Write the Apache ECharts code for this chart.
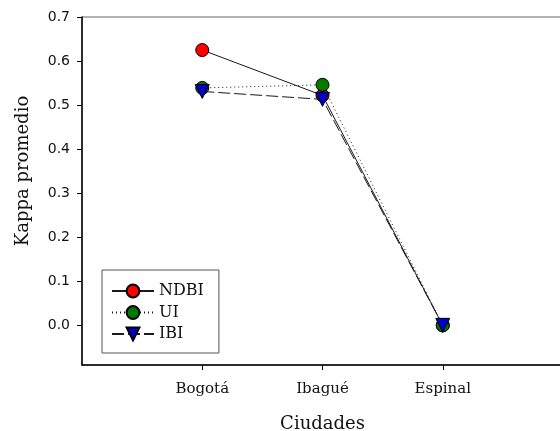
<!DOCTYPE html>
<html>
<head>
<meta charset="utf-8">
<script src="https://cdn.jsdelivr.net/npm/echarts@6/dist/echarts.min.js"></script>
<style>
html,body{margin:0;padding:0;background:#fff;}
#chart{width:560px;height:431px;}
</style>
</head>
<body>
<div id="chart"></div>
<script>
const categories = ['Bogotá', 'Ibagué', 'Espinal'];
const seriesNames = ['NDBI', 'UI', 'IBI'];
const ndbi = [0.625, 0.522, 0.0];
const ui = [0.539, 0.546, 0.0];
const ibi = [0.531, 0.513, 0.0];
const yTicks = [0, 0.1, 0.2, 0.3, 0.4, 0.5, 0.6, 0.7];
const xTicks = [1, 2, 3];

const toPts = arr => arr.map((v, i) => [i + 1, v]);

const chart = echarts.init(document.getElementById('chart'), null, {renderer: 'canvas'});
const serif = 'DejaVu Serif';
const lineColor = '#1a1a1a';

chart.setOption({
  backgroundColor: '#ffffff',
  animation: false,
  grid: {
    left: 82, top: 17, width: 481, bottom: 66,
    containLabel: false,
    outerBoundsMode: 'none',
    show: true, borderColor: '#666', borderWidth: 1, backgroundColor: 'transparent'
  },
  legend: {
    orient: 'vertical',
    left: 102, top: 270,
    padding: [13, 15, 11, 9],
    itemGap: 5.5,
    itemWidth: 42,
    itemHeight: 16,
    borderColor: '#555',
    borderWidth: 1,
    data: seriesNames,
    textStyle: {fontFamily: serif, fontSize: 16, color: '#111', lineHeight: 16}
  },
  xAxis: {
    type: 'value',
    min: 0, max: 4,
    splitLine: {show: false},
    axisLine: {onZero: false, lineStyle: {color: '#000', width: 1.5}},
    axisTick: {show: true, length: 5, customValues: xTicks, lineStyle: {color: '#000'}},
    axisLabel: {
      customValues: xTicks,
      margin: 17,
      fontFamily: serif, fontSize: 15, color: '#111',
      formatter: v => categories[Math.round(v) - 1] || ''
    },
    name: 'Ciudades',
    nameLocation: 'middle',
    nameGap: 50,
    nameTextStyle: {fontFamily: serif, fontSize: 18, color: '#111'}
  },
  yAxis: {
    type: 'value',
    min: -0.09, max: 0.7,
    splitLine: {show: false},
    axisLine: {show: true, onZero: false, lineStyle: {color: '#000', width: 1.5}},
    axisTick: {show: true, length: 5, customValues: yTicks, lineStyle: {color: '#000'}},
    axisLabel: {
      customValues: yTicks,
      margin: 12,
      fontFamily: 'DejaVu Sans', fontSize: 14, color: '#111',
      formatter: v => v.toFixed(1)
    }
  },
  graphic: [{
    type: 'text',
    x: 23, y: 171,
    rotation: Math.PI / 2,
    style: {
      text: 'Kappa promedio',
      fontFamily: serif, fontSize: 18, fill: '#111',
      textAlign: 'center', textVerticalAlign: 'middle'
    }
  }],
  series: [
    {
      name: seriesNames[0], type: 'line', data: toPts(ndbi),
      symbol: 'circle', symbolSize: 13,
      lineStyle: {color: lineColor, width: 1, type: 'solid'},
      itemStyle: {color: '#ff0000', borderColor: '#000', borderWidth: 1},
      z: 2
    },
    {
      name: seriesNames[1], type: 'line', data: toPts(ui),
      symbol: 'circle', symbolSize: 13,
      lineStyle: {color: lineColor, width: 1, type: [1, 3]},
      itemStyle: {color: '#007a00', borderColor: '#000', borderWidth: 1},
      z: 3
    },
    {
      name: seriesNames[2], type: 'line', data: toPts(ibi),
      symbol: 'triangle', symbolRotate: 180, symbolSize: 14,
      lineStyle: {color: lineColor, width: 1, type: [12, 4]},
      itemStyle: {color: '#0000c8', borderColor: '#000', borderWidth: 1},
      z: 4
    }
  ]
});
</script>
</body>
</html>
